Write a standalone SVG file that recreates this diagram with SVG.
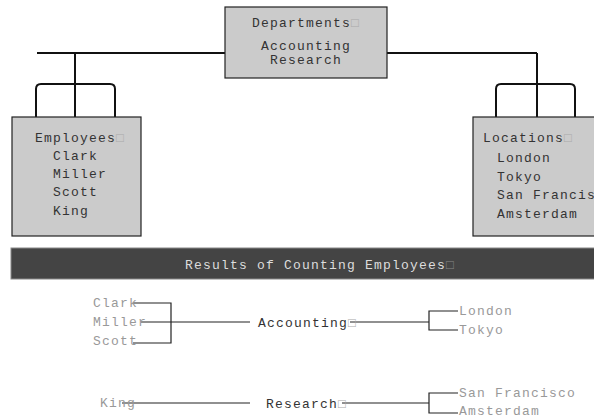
<svg xmlns="http://www.w3.org/2000/svg" width="594" height="418" viewBox="0 0 594 418">
  <style>
    .box { fill: #cbcbcb; stroke: #222; stroke-width: 1.2; }
    .wire { fill: none; stroke: #111; stroke-width: 2; }
    .thin { fill: none; stroke: #222; stroke-width: 1.2; }
    .t { font-family: "Liberation Mono", "DejaVu Sans Mono", monospace; font-size: 13px; letter-spacing: 1.2px; fill: #333; }
    .lt { font-family: "Liberation Mono", "DejaVu Sans Mono", monospace; font-size: 13px; letter-spacing: 1.2px; fill: #999; }
    .band { fill: #444; stroke: #888; stroke-width: 1; }
    .bt { font-family: "Liberation Mono", "DejaVu Sans Mono", monospace; font-size: 13px; letter-spacing: 1.2px; fill: #ddd; }
    .sq { fill: #aaa; }
  </style>

  <!-- tree connectors -->
  <g id="connectors">
    <path class="wire" d="M37 53 H537"/>
    <path class="wire" d="M75 53 V117"/>
    <path class="wire" d="M36 117 V89 Q36 84 41 84 H110 Q115 84 115 89 V117"/>
    <path class="wire" d="M537 53 V117"/>
    <path class="wire" d="M496 117 V89 Q496 84 501 84 H570 Q575 84 575 89 V117"/>
  </g>

  <g id="departments">
    <rect class="box" x="225" y="7" width="162" height="71"/>
    <text class="t" x="306" y="27" text-anchor="middle">Departments<tspan class="sq">□</tspan></text>
    <text class="t" x="306" y="50" text-anchor="middle">Accounting</text>
    <text class="t" x="306" y="64" text-anchor="middle">Research</text>
  </g>

  <g id="employees">
    <rect class="box" x="12" y="117" width="129" height="119"/>
    <text class="t" x="35" y="142">Employees<tspan class="sq">□</tspan></text>
    <text class="t" x="53" y="160">Clark</text>
    <text class="t" x="53" y="178">Miller</text>
    <text class="t" x="53" y="196">Scott</text>
    <text class="t" x="53" y="215">King</text>
  </g>

  <g id="locations">
    <rect class="box" x="473" y="117" width="130" height="119"/>
    <text class="t" x="483" y="142">Locations<tspan class="sq">□</tspan></text>
    <text class="t" x="497" y="162">London</text>
    <text class="t" x="497" y="181">Tokyo</text>
    <text class="t" x="497" y="199">San Francisco</text>
    <text class="t" x="497" y="218">Amsterdam</text>
  </g>

  <g id="results-header">
    <rect class="band" x="11" y="248" width="590" height="31"/>
    <text class="bt" x="320" y="269" text-anchor="middle">Results of Counting Employees<tspan fill="#888">□</tspan></text>
  </g>

  <!-- result links -->
  <g id="result-connectors">
    <path class="thin" d="M133 303 H171 V343 H133"/>
    <path class="thin" d="M141 322 H250"/>
    <path class="thin" d="M350 322 H429"/>
    <path class="thin" d="M458 311 H429 V330 H458"/>
    <path class="thin" d="M122 403 H250"/>
    <path class="thin" d="M342 403 H429"/>
    <path class="thin" d="M458 393 H429 V413 H458"/>
  </g>

  <g id="result-accounting">
    <text class="lt" x="93" y="307">Clark</text>
    <text class="lt" x="93" y="326">Miller</text>
    <text class="lt" x="93" y="345">Scott</text>
    <text class="t" x="258" y="327">Accounting<tspan class="sq">□</tspan></text>
    <text class="lt" x="459" y="315">London</text>
    <text class="lt" x="459" y="334">Tokyo</text>
  </g>

  <g id="result-research">
    <text class="lt" x="100" y="407">King</text>
    <text class="t" x="266" y="408">Research<tspan class="sq">□</tspan></text>
    <text class="lt" x="459" y="397">San Francisco</text>
    <text class="lt" x="459" y="415">Amsterdam</text>
  </g>
</svg>
